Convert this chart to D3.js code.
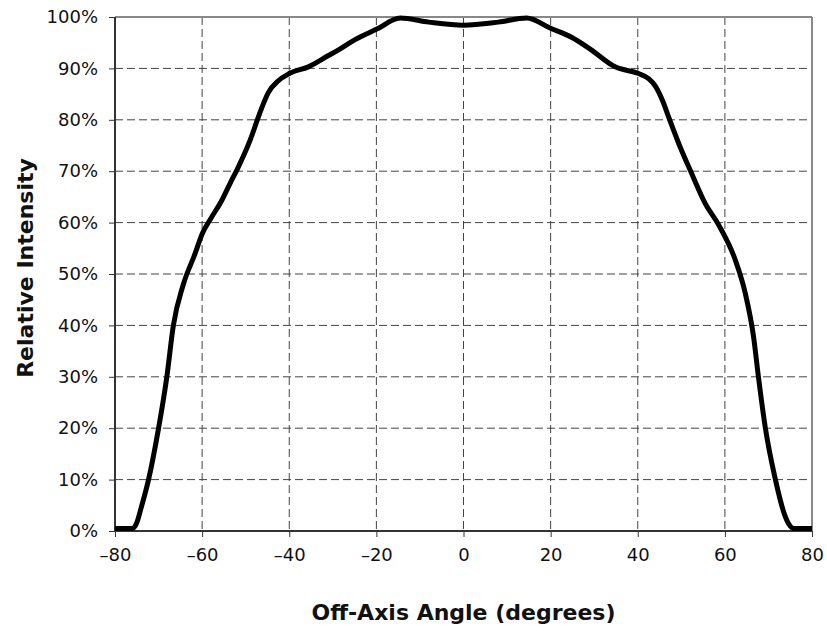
<!DOCTYPE html>
<html>
<head>
<meta charset="utf-8">
<script src="https://cdn.jsdelivr.net/npm/d3@7"></script>
<style>
  body { margin: 0; background: #fff; }
  text { font-family: 'DejaVu Sans', sans-serif; fill: #111; }
</style>
</head>
<body>
<script>
// angle (degrees) vs relative intensity (%)
var angles = [-80, -76, -75, -74, -72.3, -70, -68.1, -66.6, -64.3, -61.6, -60, -58, -55.5,
  -53.6, -51.7, -49, -47.1, -46, -44.8, -42.5, -40, -35.6, -31, -28.3, -24.9, -20,
  -14.5, -8, 0, 8, 14.5, 20, 24.9, 29, 34.8, 40.2, 42.5, 44, 45.8, 47.1,
  49.4, 52.4, 55.5, 58.6, 62.4, 64.7, 66.6, 67.7, 69.3, 71.6, 73.7, 74.8, 75.8, 80];
var intensity = [0.5, 0.5, 1.6, 4.5, 10, 20, 30, 40, 48, 54, 57.8, 60.8, 64.3,
  67.6, 70.8, 76, 80.5, 83, 85.3, 87.6, 89, 90.3, 92.5, 93.8, 95.6, 97.6,
  99.8, 99, 98.4, 99, 99.8, 97.8, 96, 93.8, 90.3, 89, 88, 86.6, 83.5, 80.5,
  75.4, 69.5, 63.7, 59.5, 52.7, 46.2, 37.7, 30, 20, 10, 3.2, 1.2, 0.5, 0.5];
var xTicks = [-80, -60, -40, -20, 0, 20, 40, 60, 80];
var yTicks = [0, 10, 20, 30, 40, 50, 60, 70, 80, 90, 100];

var data = angles.map(function(a, i) { return {angle: a, value: intensity[i]}; });

var w = 827, h = 631;
var margin = {top: 17, right: 15, bottom: 100, left: 115};
var iw = w - margin.left - margin.right;
var ih = h - margin.top - margin.bottom;

var svg = d3.select('body').append('svg')
  .attr('width', w)
  .attr('height', h);

var g = svg.append('g')
  .attr('transform', 'translate(' + margin.left + ',' + margin.top + ')');

/* ===== scales ===== */

var xScale = d3.scaleLinear().domain([-80, 80]).range([0, iw]);
var yScale = d3.scaleLinear().domain([0, 100]).range([ih, 0]);

/* ===== grid ===== */

g.append('g').selectAll('line').data(xTicks.slice(1, -1))
  .enter().append('line')
  .attr('x1', function(d) { return xScale(d); })
  .attr('x2', function(d) { return xScale(d); })
  .attr('y1', 0).attr('y2', ih)
  .attr('stroke', '#444').attr('stroke-width', 1)
  .attr('stroke-dasharray', '8,4');

g.append('g').selectAll('line').data(yTicks.slice(1, -1))
  .enter().append('line')
  .attr('y1', function(d) { return yScale(d); })
  .attr('y2', function(d) { return yScale(d); })
  .attr('x1', 0).attr('x2', iw)
  .attr('stroke', '#444').attr('stroke-width', 1)
  .attr('stroke-dasharray', '8,4');

/* ===== frame (top / right) ===== */

g.append('line').attr('x1', 0).attr('x2', iw).attr('y1', 0).attr('y2', 0)
  .attr('stroke', '#888').attr('stroke-width', 2);
g.append('line').attr('x1', iw).attr('x2', iw).attr('y1', 0).attr('y2', ih)
  .attr('stroke', '#888').attr('stroke-width', 2);

/* ===== axes ===== */

var xAxis = d3.axisBottom(xScale)
  .tickValues(xTicks)
  .tickSize(6)
  .tickPadding(11)
  .tickFormat(function(d) { return d < 0 ? '\u2013' + Math.abs(d) : d; });

var yAxis = d3.axisLeft(yScale)
  .tickValues(yTicks)
  .tickSize(6)
  .tickPadding(11)
  .tickFormat(function(d) { return d + '%'; });

var gx = g.append('g')
  .attr('transform', 'translate(0,' + ih + ')')
  .call(xAxis);
var gy = g.append('g').call(yAxis);

[gx, gy].forEach(function(ax) {
  ax.select('.domain').attr('stroke', '#333').attr('stroke-width', 2);
  ax.selectAll('.tick line').attr('stroke', '#333').attr('stroke-width', 1);
  ax.selectAll('.tick text')
    .style('font-family', "'DejaVu Sans', sans-serif")
    .style('font-size', '18px')
    .attr('fill', '#111');
});
gx.select('.domain').attr('d', 'M0,0H' + iw);
gy.select('.domain').attr('d', 'M0,0V' + ih);

/* ===== curve ===== */

var line = d3.line()
  .x(function(d) { return xScale(d.angle); })
  .y(function(d) { return yScale(d.value); })
  .curve(d3.curveMonotoneX);

g.append('path')
  .datum(data)
  .attr('d', line)
  .attr('fill', 'none')
  .attr('stroke', '#000')
  .attr('stroke-width', 5)
  .attr('stroke-linejoin', 'round');

/* ===== axis titles ===== */

svg.append('text')
  .attr('x', margin.left + iw / 2)
  .attr('y', 620)
  .attr('text-anchor', 'middle')
  .style('font-size', '22px')
  .style('font-weight', 'bold')
  .text('Off-Axis Angle (degrees)');

svg.append('text')
  .attr('transform', 'translate(33,268) rotate(-90)')
  .attr('text-anchor', 'middle')
  .style('font-size', '22px')
  .style('font-weight', 'bold')
  .text('Relative Intensity');
</script>
</body>
</html>
